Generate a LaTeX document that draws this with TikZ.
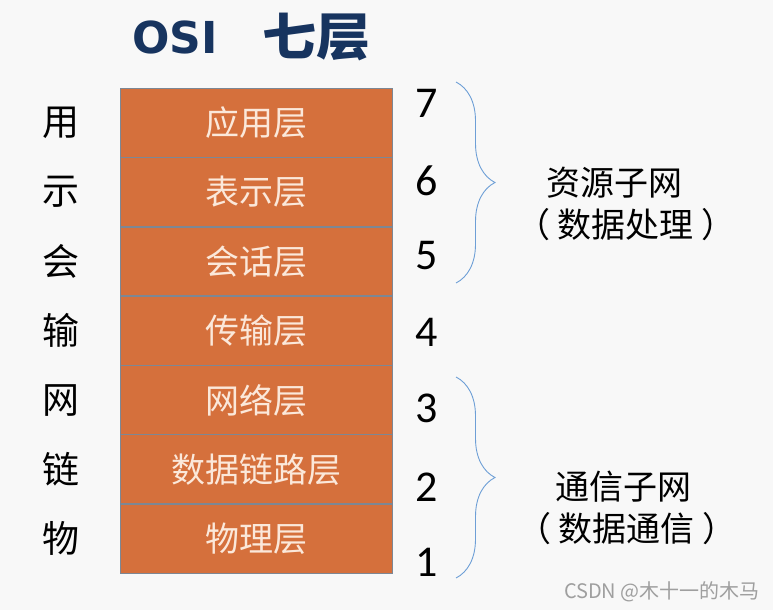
\documentclass[tikz,border=0pt]{standalone}
\usepackage{fontspec}
\setmainfont{Carlito}
\newfontfamily\cjk{Noto Sans CJK SC}
\newfontfamily\heavy{DejaVu Sans}
\usetikzlibrary{positioning,decorations.pathreplacing}

\definecolor{layerfill}{HTML}{D5703C}
\definecolor{layerline}{HTML}{7D8794}
\definecolor{layertext}{HTML}{FBE8DA}
\definecolor{titleblue}{HTML}{17345F}
\definecolor{bracecol}{HTML}{6E9FD6}
\definecolor{paper}{HTML}{F8F8F8}

\tikzset{
	layer/.style={fill=layerfill, text=layertext,
		minimum width=272pt, minimum height=69.3pt, inner sep=0pt,
		font=\cjk\fontsize{34}{34}\selectfont},
	sidelabel/.style={inner sep=0pt, font=\cjk\fontsize{37}{37}\selectfont},
	layernum/.style={inner sep=0pt, font=\fontsize{44}{44}\selectfont},
	groupbrace/.style={draw=bracecol, line width=0.9pt, decorate,
		decoration={brace, amplitude=39pt}},
	grouptext/.style={inner sep=0pt, font=\cjk\fontsize{34}{34}\selectfont},
	titletext/.style={anchor=base west, text=titleblue, inner sep=0pt}
}

\begin{document}
\begin{tikzpicture}[x=1pt,y=-1pt]
	
	% background
	\fill[paper] (0,0) rectangle (773,610);
	\useasboundingbox (0,0) rectangle (773,610);
	
	% title
	\node[titletext, font=\heavy\bfseries\fontsize{44}{44}\selectfont] (title) at (132,53) {OSI};
	\node[titletext, xscale=1.06, transform shape, font=\cjk\bfseries\fontsize{51}{51}\selectfont] (title cn) at (262,56) {七层};
	
	% the seven layers
	\foreach \n/\name [count=\k from 0] in {7/应用层,6/表示层,5/会话层,4/传输层,3/网络层,2/数据链路层,1/物理层}
		\node[layer, anchor=north west] (l\n) at (120,{88+69.3*\k}) {\name};
	% outlines after the fills, so no border is painted over
	\foreach \n in {7,...,1}
		\draw[layerline, line width=0.9pt] (l\n.north west) rectangle (l\n.south east);
	
	% short names on the left
	\foreach \n/\ch in {7/用,6/示,5/会,4/输,3/网,2/链,1/物}
		\node[sidelabel, left=40pt of l\n] (s\n) {\ch};
	
	% layer numbers
	\foreach \n/\y in {7/103,6/181,5/256,4/332,3/408,2/487,1/562}
		\node[layernum] (n\n) at (427,\y) {\n};
	
	% braces
	\coordinate (up top) at (456,82);
	\coordinate (up bot) at (456,283);
	\coordinate (low top) at (456,377);
	\coordinate (low bot) at (456,578);
	\draw[groupbrace] (up top) -- (up bot);
	\draw[groupbrace] (low top) -- (low bot);
	
	\node[grouptext] (res) at (614,183) {资源子网};
	\node[grouptext] (resnote) at (626,225) {（\hspace{8pt}数据处理\hspace{8pt}）};
	\node[grouptext] (com) at (623,487) {通信子网};
	\node[grouptext] (comnote) at (627,529) {（\hspace{8pt}数据通信\hspace{8pt}）};
	
	% watermark
	\node[anchor=east, inner sep=0pt, text=gray!75, font=\cjk\fontsize{20}{20}\selectfont] (mark) at (760,592)
		{CSDN @木十一的木马};
	
\end{tikzpicture}
\end{document}
